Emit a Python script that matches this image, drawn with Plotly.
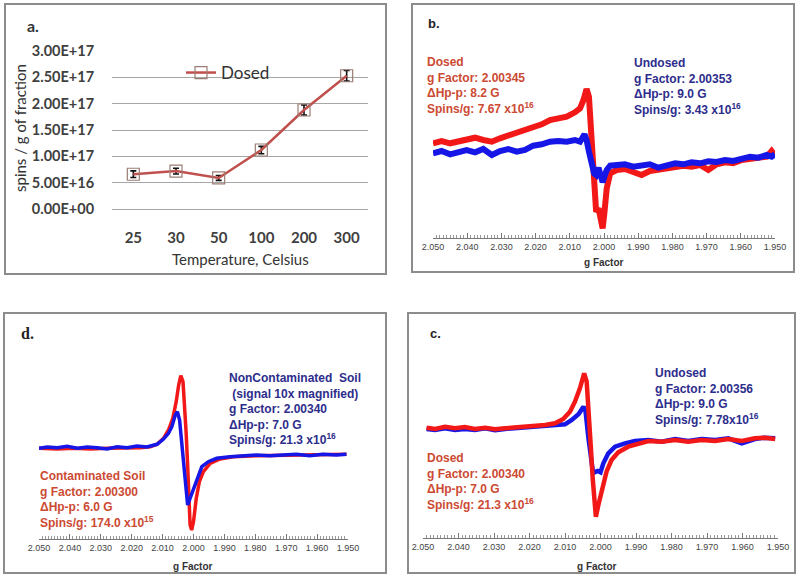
import plotly.graph_objects as go

W, H = 800, 580

# ---------------- data: panel a ----------------
temperatures = ["25", "30", "50", "100", "200", "300"]
dosed_spins = [6.6e16, 7.2e16, 5.9e16, 1.12e17, 1.88e17, 2.53e17]
dosed_err = [0.63e16, 0.55e16, 0.47e16, 0.7e16, 0.95e16, 1.0e16]
spin_ticks = [0, 5e16, 1e17, 1.5e17, 2e17, 2.5e17, 3e17]
spin_tick_labels = ["0.00E+00", "5.00E+16", "1.00E+17", "1.50E+17", "2.00E+17", "2.50E+17", "3.00E+17"]

# ---------------- data: panel b (intensity, arbitrary units) ----------------
b_dosed_g = [2.0500, 2.0475, 2.0450, 2.0426, 2.0402, 2.0377, 2.0353, 2.0328, 2.0304, 2.0280,
             2.0255, 2.0231, 2.0207, 2.0182, 2.0158, 2.0134, 2.0109, 2.0085, 2.0070, 2.0060,
             2.0051, 2.0044, 2.0036, 2.0029, 2.0023, 2.0016, 2.0010, 2.0004, 1.9999, 1.9992,
             1.9982, 1.9963, 1.9939, 1.9914, 1.9890, 1.9866, 1.9841, 1.9817, 1.9792, 1.9768,
             1.9744, 1.9719, 1.9695, 1.9671, 1.9646, 1.9622, 1.9597, 1.9573, 1.9549, 1.9524,
             1.9510, 1.9500]
b_dosed_i = [94.7, 97.0, 94.7, 96.3, 99.0, 100.3, 98.0, 96.3, 99.7, 102.3,
             105.7, 108.0, 111.3, 113.7, 118.0, 119.7, 121.3, 125.7, 129.7, 138.0,
             149.0, 141.3, 96.3, 53.0, 26.3, 29.7, 16.3, 9.7, 24.7, 49.7,
             64.7, 68.0, 69.0, 65.7, 63.0, 67.0, 68.0, 69.7, 70.3, 72.3,
             71.3, 73.0, 68.0, 73.7, 75.7, 74.7, 78.0, 79.0, 79.7, 81.3,
             87.0, 82.3]
b_undosed_g = [2.0500, 2.0475, 2.0450, 2.0426, 2.0402, 2.0377, 2.0353, 2.0328, 2.0304, 2.0280,
               2.0255, 2.0231, 2.0207, 2.0182, 2.0158, 2.0134, 2.0109, 2.0085, 2.0070, 2.0057,
               2.0051, 2.0044, 2.0036, 2.0029, 2.0023, 2.0016, 2.0010, 2.0004, 1.9999, 1.9992,
               1.9982, 1.9963, 1.9939, 1.9914, 1.9890, 1.9866, 1.9841, 1.9817, 1.9792, 1.9768,
               1.9744, 1.9719, 1.9695, 1.9671, 1.9646, 1.9622, 1.9597, 1.9573, 1.9549, 1.9524,
               1.9510, 1.9500]
b_undosed_i = [84.7, 87.0, 83.7, 86.3, 88.0, 85.7, 89.0, 83.0, 87.0, 89.0,
               86.3, 88.0, 92.3, 93.7, 96.3, 97.0, 96.3, 98.0, 96.3, 103.7,
               98.0, 86.3, 73.0, 64.7, 63.0, 70.3, 63.0, 55.7, 61.3, 68.0,
               72.3, 73.0, 73.7, 71.3, 72.3, 73.7, 70.3, 73.0, 74.7, 73.7,
               75.7, 74.7, 76.7, 76.0, 78.0, 77.0, 79.7, 81.3, 80.3, 83.0,
               81.3, 83.7]

# ---------------- data: panel c ----------------
c_dosed_g = [2.0490, 2.0466, 2.0438, 2.0410, 2.0382, 2.0354, 2.0325, 2.0297, 2.0269, 2.0241,
             2.0213, 2.0185, 2.0156, 2.0128, 2.0105, 2.0086, 2.0072, 2.0058, 2.0046, 2.0039,
             2.0032, 2.0027, 2.0022, 2.0017, 2.0013, 2.0006, 1.9997, 1.9983, 1.9969, 1.9950,
             1.9922, 1.9893, 1.9865, 1.9828, 1.9790, 1.9753, 1.9715, 1.9677, 1.9640, 1.9602,
             1.9565, 1.9537, 1.9508]
c_dosed_i = [110.3, 109.0, 111.3, 109.7, 111.0, 109.0, 110.3, 108.7, 109.7, 110.3,
             111.3, 112.3, 113.0, 114.7, 119.0, 126.3, 136.3, 149.7, 164.7, 156.3,
             123.0, 89.7, 59.7, 33.0, 21.3, 33.0, 46.3, 66.3, 78.0, 85.7,
             91.3, 94.7, 97.0, 96.3, 98.0, 96.3, 98.0, 97.0, 99.0, 97.0,
             99.7, 100.3, 99.0]
c_undosed_g = [2.0490, 2.0466, 2.0438, 2.0410, 2.0382, 2.0354, 2.0325, 2.0297, 2.0269, 2.0241,
               2.0213, 2.0185, 2.0156, 2.0128, 2.0100, 2.0081, 2.0062, 2.0048, 2.0042, 2.0034,
               2.0028, 2.0022, 2.0016, 2.0008, 2.0000, 1.9992, 1.9978, 1.9959, 1.9931, 1.9903,
               1.9865, 1.9828, 1.9790, 1.9753, 1.9715, 1.9677, 1.9640, 1.9602, 1.9565, 1.9537,
               1.9508]
c_undosed_i = [109.0, 108.0, 109.7, 108.0, 109.0, 108.0, 109.7, 107.7, 109.0, 109.7,
               110.3, 111.0, 111.3, 112.0, 113.7, 118.0, 123.7, 131.3, 126.3, 99.7,
               79.7, 68.0, 65.7, 67.0, 65.7, 74.7, 84.7, 91.3, 94.7, 97.0,
               98.0, 96.3, 99.0, 97.0, 99.0, 98.0, 99.7, 94.7, 99.0, 100.3,
               99.7]

# ---------------- data: panel d ----------------
d_contam_g = [2.0500, 2.0441, 2.0387, 2.0333, 2.0280, 2.0226, 2.0172, 2.0140, 2.0118, 2.0097,
              2.0081, 2.0067, 2.0056, 2.0048, 2.0041, 2.0034, 2.0029, 2.0024, 2.0019, 2.0015,
              2.0011, 2.0006, 2.0000, 1.9991, 1.9981, 1.9968, 1.9946, 1.9914, 1.9871, 1.9796,
              1.9688, 1.9581, 1.9505]
d_contam_i = [90.7, 90.0, 90.7, 90.0, 90.7, 90.7, 91.3, 92.3, 94.7, 100.7,
              109.0, 120.7, 137.3, 154.0, 163.3, 157.3, 137.3, 107.3, 74.0, 40.7,
              14.0, 9.0, 17.3, 40.7, 57.3, 67.3, 75.7, 80.0, 82.3, 83.3,
              84.0, 84.0, 84.7]
d_noncontam_g = [2.0500, 2.0473, 2.0441, 2.0409, 2.0376, 2.0344, 2.0312, 2.0280, 2.0247, 2.0215,
                 2.0183, 2.0151, 2.0118, 2.0097, 2.0081, 2.0070, 2.0059, 2.0052, 2.0045, 2.0038,
                 2.0030, 2.0024, 2.0019, 2.0015, 2.0009, 2.0000, 1.9989, 1.9973, 1.9952, 1.9925,
                 1.9882, 1.9839, 1.9796, 1.9753, 1.9710, 1.9667, 1.9624, 1.9581, 1.9538, 1.9505]
d_noncontam_i = [90.7, 92.0, 91.3, 92.7, 90.7, 92.0, 91.3, 90.0, 92.3, 91.3,
                 93.0, 92.0, 94.7, 100.0, 105.7, 112.3, 124.0, 127.3, 119.0, 97.3,
                 67.3, 47.3, 34.0, 37.3, 42.3, 50.7, 60.7, 72.3, 77.3, 80.7,
                 82.3, 83.3, 84.0, 83.3, 84.0, 84.7, 83.3, 84.7, 84.0, 84.7]

# ---------------- helpers ----------------
def px(x):
    return x / W

def py(y):
    return 1 - y / H

RED = "#f21818"
BLUE = "#1616e6"
RED_TXT = "#cc4a33"
BLUE_TXT = "#2d2d8c"
ARIAL = "Liberation Sans, Arial, sans-serif"
LATO = "Lato, Open Sans, sans-serif"

fig = go.Figure()

# panel a
fig.add_trace(go.Scatter(
    x=temperatures, y=dosed_spins, mode="lines+markers", name="Dosed",
    line=dict(color="#c0504d", width=2.5),
    marker=dict(symbol="square-open", size=12, color="#9b7d74", line=dict(width=1.2)),
    error_y=dict(type="data", array=dosed_err, color="#111111", thickness=1.6, width=3),
    xaxis="x", yaxis="y", showlegend=True, cliponaxis=False))

# panel b
fig.add_trace(go.Scatter(x=b_dosed_g, y=b_dosed_i, mode="lines", line=dict(color=RED, width=6),
                         xaxis="x2", yaxis="y2", showlegend=False, cliponaxis=False))
fig.add_trace(go.Scatter(x=b_undosed_g, y=b_undosed_i, mode="lines", line=dict(color=BLUE, width=6),
                         xaxis="x2", yaxis="y2", showlegend=False, cliponaxis=False))
# panel c
fig.add_trace(go.Scatter(x=c_undosed_g, y=c_undosed_i, mode="lines", line=dict(color=BLUE, width=4.5),
                         xaxis="x3", yaxis="y3", showlegend=False, cliponaxis=False))
fig.add_trace(go.Scatter(x=c_dosed_g, y=c_dosed_i, mode="lines", line=dict(color=RED, width=4.5),
                         xaxis="x3", yaxis="y3", showlegend=False, cliponaxis=False))
# panel d
fig.add_trace(go.Scatter(x=d_contam_g, y=d_contam_i, mode="lines", line=dict(color=RED, width=3.5),
                         xaxis="x4", yaxis="y4", showlegend=False, cliponaxis=False))
fig.add_trace(go.Scatter(x=d_noncontam_g, y=d_noncontam_i, mode="lines", line=dict(color=BLUE, width=3.5),
                         xaxis="x4", yaxis="y4", showlegend=False, cliponaxis=False))

def esr_xaxis(x0, x1, anchor):
    return dict(domain=[px(x0), px(x1)], range=[2.050, 1.950], anchor=anchor, automargin=False,
                showgrid=False, zeroline=False, showline=True, linecolor="#777777", linewidth=1,
                ticks="inside", ticklen=5, tickcolor="#777777", dtick=0.01, tick0=1.95,
                tickformat=".3f", tickfont=dict(family=ARIAL, size=9, color="#444444"),
                minor=dict(dtick=0.001, ticks="inside", ticklen=3, tickcolor="#999999"),
                fixedrange=True)

def esr_yaxis(y_bottom, y_top, top_val, anchor):
    return dict(domain=[py(y_bottom), py(y_top)], range=[0, top_val], anchor=anchor,
                automargin=False, visible=False, showgrid=False, zeroline=False)

layout = dict(
    width=W, height=H, margin=dict(l=0, r=0, t=0, b=0, autoexpand=False),
    paper_bgcolor="white", plot_bgcolor="rgba(0,0,0,0)",
    xaxis=dict(domain=[px(112), px(368)], type="category", range=[-0.5, 5.5], anchor="y",
               automargin=False,
               showgrid=False, zeroline=False, showline=True, linecolor="#a6a6a6", linewidth=1,
               ticks="", ticklabelstandoff=15,
               tickfont=dict(family=LATO, size=15, color="#404040", weight="bold")),
    yaxis=dict(domain=[py(209), py(51)], range=[0, 3e17], anchor="x", automargin=False,
               tickvals=spin_ticks, ticktext=spin_tick_labels, showgrid=True,
               gridcolor="#a6a6a6", gridwidth=1, zeroline=False, showline=False,
               ticks="outside", ticklen=14, tickcolor="rgba(0,0,0,0)",
               tickfont=dict(family=LATO, size=14.5, color="#404040", weight="bold")),
    xaxis2=esr_xaxis(433, 775, "y2"),
    yaxis2=esr_yaxis(238, 80, 158, "x2"),
    xaxis3=esr_xaxis(423, 778, "y3"),
    yaxis3=esr_yaxis(538, 360, 178, "x3"),
    xaxis4=esr_xaxis(39, 348, "y4"),
    yaxis4=esr_yaxis(539, 360, 179, "x4"),
    legend=dict(x=px(181), y=py(55), xanchor="left", yanchor="top", bgcolor="rgba(0,0,0,0)",
                font=dict(family=LATO, size=17, color="#333333"), itemwidth=30),
    showlegend=True,
)
fig.update_layout(**layout)

# panel borders
for (x0, y0, x1, y1) in [(5, 4, 386, 274), (412, 4, 794, 272), (4, 313, 386, 573), (408, 313, 795, 573)]:
    fig.add_shape(type="rect", xref="paper", yref="paper", x0=px(x0), x1=px(x1), y0=py(y1), y1=py(y0),
                  line=dict(color="#8c8c8c", width=2), layer="below")

def note(text, x, y, size, color, family=ARIAL, bold=True, xanchor="left", yanchor="middle", angle=0):
    fig.add_annotation(text=text, xref="paper", yref="paper", x=px(x), y=py(y),
                       xanchor=xanchor, yanchor=yanchor, showarrow=False, textangle=angle,
                       align="left",
                       font=dict(family=family, size=size, color=color,
                                 weight="bold" if bold else "normal"))

# panel a labels
note("a.", 25, 25, 16, "#333333", family=LATO)
note("spins / g of fraction", 20, 128, 15, "#333333", family=LATO, bold=False, xanchor="center", angle=-90)
note("Temperature, Celsius", 240, 259, 15, "#333333", family=LATO, bold=False, xanchor="center")

# panel b
note("b.", 426, 23, 13, "#222222")
note("Dosed<br>g Factor: 2.00345<br>ΔHp-p: 8.2 G<br>Spins/g: 7.67 x10<sup>16</sup>",
     425, 53, 12, RED_TXT, yanchor="top")
note("Undosed<br>g Factor: 2.00353<br>ΔHp-p: 9.0 G<br>Spins/g: 3.43 x10<sup>16</sup>",
     632, 54, 12, BLUE_TXT, yanchor="top")
note("g Factor", 604, 262, 10, "#333333", xanchor="center")

# panel c
note("c.", 428, 333, 13, "#222222")
note("Undosed<br>g Factor: 2.00356<br>ΔHp-p: 9.0 G<br>Spins/g: 7.78x10<sup>16</sup>",
     653, 364, 12, BLUE_TXT, yanchor="top")
note("Dosed<br>g Factor: 2.00340<br>ΔHp-p: 7.0 G<br>Spins/g: 21.3 x10<sup>16</sup>",
     425, 449, 12, RED_TXT, yanchor="top")
note("g Factor", 597, 566, 10, "#333333", xanchor="center")

# panel d
note("d.", 19, 333, 16, "#222222", family="Liberation Serif, Times New Roman, serif")
note("NonContaminated  Soil<br> (signal 10x magnified)<br>g Factor: 2.00340<br>ΔHp-p: 7.0 G<br>Spins/g: 21.3 x10<sup>16</sup>",
     227, 369, 12, BLUE_TXT, yanchor="top")
note("Contaminated Soil<br>g Factor: 2.00300<br>ΔHp-p: 6.0 G<br>Spins/g: 174.0 x10<sup>15</sup>",
     38, 467, 12, RED_TXT, yanchor="top")
note("g Factor", 193, 566, 10, "#333333", xanchor="center")

fig.write_html("out.html", config={"displayModeBar": False},
               post_script="document.body.style.margin='0';document.body.style.overflow='hidden';")
